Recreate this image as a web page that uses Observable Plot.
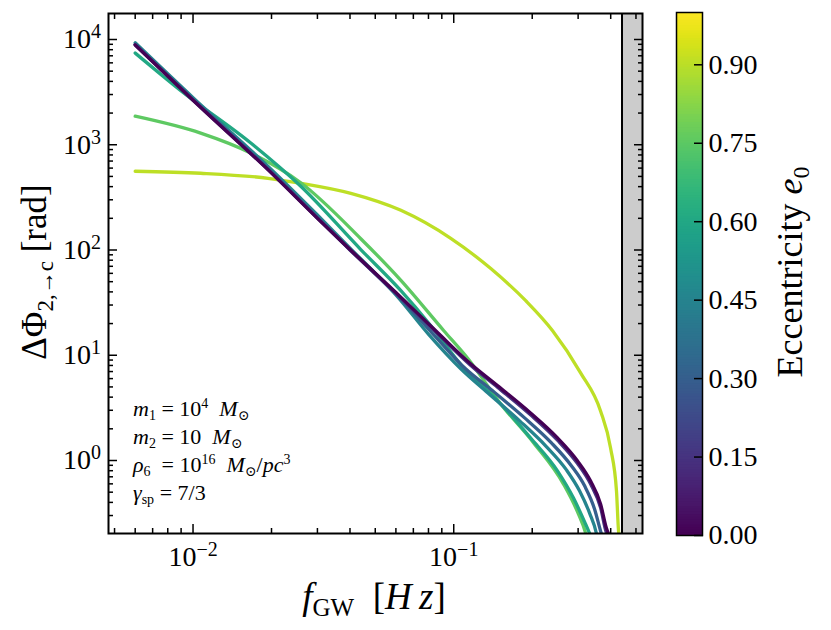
<!DOCTYPE html>
<html><head><meta charset="utf-8">
<script src="https://cdn.jsdelivr.net/npm/d3@7"></script>
<script src="https://cdn.jsdelivr.net/npm/@observablehq/plot@0.6"></script>
<style>
body{margin:0;background:#fff;}
#wrap{position:relative;width:831px;height:630px;}
#wrap svg{position:absolute;top:0;}
</style></head><body><div id="wrap"></div>
<script>
// ---------- data ----------
const eccentricities = [0.9, 0.75, 0.6, 0.45, 0.3, 0.15, 0];

const f_e090 = [0.006, 0.0107, 0.0194, 0.0259, 0.0403, 0.0627, 0.0974, 0.1387, 0.1888, 0.2394, 0.3066, 0.3657, 0.3997, 0.421, 0.4287, 0.431];
const phi_e090 = [560, 536, 480, 430, 345, 238, 129, 66.6, 33.0, 17.1, 6.81, 2.96, 1.31, 0.512, 0.213, 0.19];

const f_e075 = [0.006, 0.0107, 0.0167, 0.0259, 0.044, 0.0627, 0.0916, 0.1133, 0.1514, 0.2026, 0.2637, 0.301, 0.3206, 0.323];
const phi_e075 = [1866, 1288, 830, 435, 128, 51.5, 17.1, 9.3, 3.45, 1.47, 0.597, 0.309, 0.204, 0.19];

const f_e060 = [0.006, 0.00924, 0.0167, 0.0259, 0.044, 0.0627, 0.0817, 0.109, 0.1475, 0.197, 0.2503, 0.288, 0.3206, 0.336];
const phi_e060 = [7430, 3090, 1033, 403, 101, 41.1, 19.1, 7.6, 3.69, 1.64, 0.794, 0.44, 0.248, 0.19];

const f_e045 = [0.006, 0.01, 0.02, 0.03, 0.04, 0.05, 0.06, 0.0801, 0.1064, 0.1349, 0.179, 0.227, 0.271, 0.304, 0.332, 0.353, 0.356];
const phi_e045 = [9300, 2800, 580, 215, 104, 60, 37.5, 15.8, 7.44, 4.40, 2.38, 1.35, 0.81, 0.513, 0.316, 0.2, 0.18];

const f_e030 = [0.006, 0.01, 0.02, 0.03, 0.04, 0.06, 0.0832, 0.111, 0.141, 0.187, 0.237, 0.283, 0.318, 0.347, 0.366, 0.371];
const phi_e030 = [9000, 2700, 550, 204, 101, 38.5, 16.0, 7.44, 4.59, 2.54, 1.47, 0.887, 0.571, 0.345, 0.213, 0.19];

const f_e015 = [0.006, 0.01, 0.02, 0.03, 0.04, 0.06, 0.0853, 0.116, 0.1475, 0.197, 0.250, 0.2985, 0.335, 0.366, 0.385, 0.3925];
const phi_e015 = [8900, 2660, 540, 201, 100, 38.8, 16.7, 8.05, 4.95, 2.72, 1.56, 0.935, 0.597, 0.355, 0.207, 0.19];

const f_e000 = [0.006, 0.01, 0.02, 0.03, 0.04, 0.06, 0.0853, 0.116, 0.1475, 0.197, 0.250, 0.2985, 0.335, 0.366, 0.385, 0.3925, 0.395];
const phi_e000 = [8870, 2650, 537, 200, 101, 39.4, 17.1, 8.3, 5.12, 2.83, 1.64, 0.99, 0.638, 0.385, 0.228, 0.2, 0.19];

const iscoFreq = [0.442];           // vertical line / shaded region start
const xDomain = [0.00474, 0.5297];
const yDomain = [0.2025, 17660];
const xMajor = [0.01, 0.1];
const xMinor = [0.005, 0.006, 0.007, 0.008, 0.009, 0.02, 0.03, 0.04, 0.05, 0.06, 0.07, 0.08, 0.09, 0.2, 0.3, 0.4, 0.5];
const yMajor = [1, 10, 100, 1000, 10000];
const yMinor = [0.3, 0.4, 0.5, 0.6, 0.7, 0.8, 0.9, 2, 3, 4, 5, 6, 7, 8, 9, 20, 30, 40, 50, 60, 70, 80, 90,
                200, 300, 400, 500, 600, 700, 800, 900, 2000, 3000, 4000, 5000, 6000, 7000, 8000, 9000];
const cbTicks = [0, 0.15, 0.3, 0.45, 0.6, 0.75, 0.9];
const cbStops = d3.range(0, 1, 0.005);

const seriesF = [f_e090, f_e075, f_e060, f_e045, f_e030, f_e015, f_e000];
const seriesPhi = [phi_e090, phi_e075, phi_e060, phi_e045, phi_e030, phi_e015, phi_e000];
const rows = [];
eccentricities.forEach((e, k) => seriesF[k].forEach((f, i) => rows.push({e, f, phi: seriesPhi[k][i]})));

const FONT = "'Liberation Serif', 'DejaVu Serif', serif";
const expFmt = d => "10^" + Math.round(Math.log10(d));
const blank = () => "";

const main = Plot.plot({
  width: 831, height: 630,
  marginLeft: 108, marginRight: 189, marginTop: 13, marginBottom: 97,
  style: {fontFamily: FONT, fontSize: "28px", background: "transparent", color: "black"},
  x: {type: "log", domain: xDomain, axis: null},
  y: {type: "log", domain: yDomain, axis: null},
  color: {type: "linear", scheme: "viridis", domain: [0, 1]},
  marks: [
    Plot.rect(iscoFreq, {x1: d => d, x2: () => xDomain[1], y1: () => yDomain[0], y2: () => yDomain[1], fill: "#cccccc"}),
    Plot.ruleX(iscoFreq, {stroke: "black", strokeWidth: 2}),
    Plot.line(rows, {x: "f", y: "phi", z: "e", stroke: "e", strokeWidth: 3.3, curve: "monotone-x", clip: true}),
    Plot.axisX(xMajor, {anchor: "bottom", tickSize: -9, tickPadding: 22, strokeWidth: 1.5, tickFormat: expFmt, label: null}),
    Plot.axisX(xMinor, {anchor: "bottom", tickSize: -5, strokeWidth: 1.5, tickFormat: blank, label: null}),
    Plot.axisX(xMajor, {anchor: "top", tickSize: -9, strokeWidth: 1.5, tickFormat: blank, label: null}),
    Plot.axisX(xMinor, {anchor: "top", tickSize: -5, strokeWidth: 1.5, tickFormat: blank, label: null}),
    Plot.axisY(yMajor, {anchor: "left", tickSize: -9, tickPadding: 16.5, strokeWidth: 1.5, tickFormat: expFmt, label: null}),
    Plot.axisY(yMinor, {anchor: "left", tickSize: -5, strokeWidth: 1.5, tickFormat: blank, label: null}),
    Plot.axisY(yMajor, {anchor: "right", tickSize: -9, strokeWidth: 1.5, tickFormat: blank, label: null}),
    Plot.axisY(yMinor, {anchor: "right", tickSize: -5, strokeWidth: 1.5, tickFormat: blank, label: null}),
    Plot.frame({stroke: "black", strokeWidth: 2})
  ]
});

const cb = Plot.plot({
  width: 181, height: 630,
  marginLeft: 26, marginRight: 129, marginTop: 12, marginBottom: 95,
  style: {fontFamily: FONT, fontSize: "28px", background: "transparent", color: "black"},
  x: {domain: [0, 1], axis: null},
  y: {domain: [0, 1], axis: null},
  color: {type: "linear", scheme: "viridis", domain: [0, 1]},
  marks: [
    Plot.rect(cbStops, {x1: 0, x2: 1, y1: d => d, y2: d => Math.min(1, d + 0.008), fill: d => d}),
    Plot.axisY(cbTicks, {anchor: "right", tickSize: -9, tickPadding: 15, strokeWidth: 1.5, tickFormat: d3.format(".2f"), label: null}),
    Plot.frame({stroke: "black", strokeWidth: 1.5})
  ]
});

const wrap = document.getElementById("wrap");
wrap.appendChild(main);
cb.style.left = "650px";
wrap.appendChild(cb);

// superscript exponents on tick labels
d3.select(main).selectAll('g[aria-label="x-axis tick label"] text, g[aria-label="y-axis tick label"] text').each(function () {
  const s = this.textContent;
  if (!s.includes("^")) return;
  const [b, e] = s.split("^");
  const t = d3.select(this);
  t.text(null);
  t.append("tspan").text(b);
  t.append("tspan").attr("dy", -10).attr("font-size", 20).text(e.replace("-", "\u2212"));
});

function rich(parent, x, y, size, parts, transform, anchor) {
  const t = parent.append("text").attr("x", x).attr("y", y)
    .attr("font-size", size).attr("font-family", FONT).attr("fill", "black")
    .attr("text-anchor", anchor || "start")
    .style("white-space", "pre");
  if (transform) t.attr("transform", transform);
  parts.forEach(p => {
    const ts = t.append("tspan").text(p.t);
    if (p.i) ts.attr("font-style", "italic");
    if (p.s) ts.attr("font-size", p.s);
    if (p.dy) ts.attr("dy", p.dy);
  });
  return t;
}

const svg = d3.select(main);
// axis labels
rich(svg, 374, 609, 37, [{t: "f", i: 1}, {t: "GW", s: 25, dy: 7}, {t: "  [", dy: -7}, {t: "H\u2009z", i: 1}, {t: "]"}], null, "middle");
rich(svg, 0, 0, 35, [{t: "\u0394\u03a6"}, {t: "2,\u2192c", s: 23, dy: 7}, {t: " [rad]", dy: -7}], "translate(46,272) rotate(-90)", "middle");

// parameter annotation
const A = 22, S = 14;
rich(svg, 133, 416, A, [{t: "m", i: 1}, {t: "1", s: S, dy: 4}, {t: " = 10", dy: -4}, {t: "4", s: S, dy: -8}, {t: "  M", i: 1, dy: 8}, {t: "\u2299", s: S, dy: 4}]);
rich(svg, 133, 444, A, [{t: "m", i: 1}, {t: "2", s: S, dy: 4}, {t: " = 10  ", dy: -4}, {t: "M", i: 1}, {t: "\u2299", s: S, dy: 4}]);
rich(svg, 133, 472, A, [{t: "\u03c1", i: 1}, {t: "6", s: S, dy: 4}, {t: "  = 10", dy: -4}, {t: "16", s: S, dy: -8}, {t: "  M", i: 1, dy: 8}, {t: "\u2299", s: S, dy: 4}, {t: "/", dy: -4}, {t: "pc", i: 1}, {t: "3", s: S, dy: -8}]);
rich(svg, 133, 500, A, [{t: "\u03b3", i: 1}, {t: "sp", s: S, dy: 4}, {t: " = 7/3", dy: -4}]);

// colorbar label
rich(d3.select(cb), 0, 0, 36, [{t: "Eccentricity "}, {t: "e", i: 1}, {t: "0", s: 24, dy: 7}], "translate(152,272) rotate(-90)", "middle");
</script></body></html>
